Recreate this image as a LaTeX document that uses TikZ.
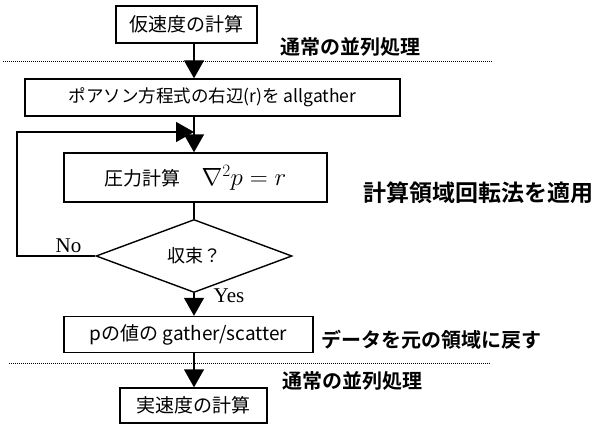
\documentclass[tikz,border=0pt]{standalone}
\usepackage{fontspec}
\setmainfont{Liberation Serif}
\newfontfamily\jp{Noto Sans CJK JP}
\newfontfamily\jpb{Noto Sans CJK JP Bold}
\usetikzlibrary{arrows.meta,shapes.geometric}
\tikzset{
  box/.style={draw, line width=1.4pt, inner sep=0pt, font=\jp\fontsize{19}{22}\selectfont},
  dia/.style={draw, diamond, line width=1.4pt, inner sep=0pt, font=\jp\fontsize{18}{22}\selectfont},
  arr/.style={line width=1.4pt, -{Triangle[width=20pt,length=18pt]}},
  plain/.style={line width=1.4pt},
  sep/.style={line width=1pt, dash pattern=on 1pt off 1pt},
  lab/.style={font=\jpb\fontsize{20}{24}\selectfont, inner sep=0pt},
  yn/.style={font=\rmfamily\fontsize{21}{24}\selectfont, inner sep=0pt},
}
\begin{document}
\begin{tikzpicture}[x=1pt,y=-1pt]
\useasboundingbox (0,0) rectangle (601,425);
\coordinate (ax) at (194,0);
\coordinate (lp) at (17,132);
% separators
\draw[sep] (3,61.5) -- (493,61.5);
\draw[sep] (9,363) -- (490,363);
% boxes
\node[box, minimum width=141pt, minimum height=37pt] (b1) at (186.5,24.5) {仮速度の計算};
\node[box, minimum width=375pt, minimum height=37pt, font=\jp\fontsize{17.5}{22}\selectfont] (b2) at (212.5,97.5) {ポアソン方程式の右辺(r)を allgather};
\node[box, minimum width=263pt, minimum height=49pt] (b3) at (195.5,177.5) {圧力計算\hspace{1.1em}{\fontsize{25}{28}\selectfont$\nabla^2 p = r$}};
\node[dia, minimum width=196pt, minimum height=73pt] (d) at (194,256) {\raisebox{3pt}{収束？}};
\node[box, minimum width=249pt, minimum height=36pt] (b4) at (188.5,334.5) {pの値の gather/scatter};
\node[box, minimum width=147pt, minimum height=35pt] (b5) at (193.5,405.5) {実速度の計算};
% labels
\node[lab] (n1) at (350,47) {通常の並列処理};
\node[lab] (n2) at (352,381) {通常の並列処理};
\node[lab, font=\jpb\fontsize{23}{26}\selectfont] (rot) at (478,193) {計算領域回転法を適用};
\node[lab, anchor=west, font=\jpb\fontsize{20}{22}\selectfont] (ret) at (321,340) {データを元の領域に戻す};
\node[yn] (no) at (68.5,246) {No};
\node[yn] (yes) at (229,296) {Yes};
% connectors
\draw[arr] (b1.south -| ax) -- (b2.north -| ax);
\draw[arr] (b2.south -| ax) -- (b3.north -| ax);
\draw[plain] (b3.south -| ax) -- (d.north);
\draw[arr] (d.west) -| (lp) -- (lp -| ax);
\draw[arr] (d.south) -- (b4.north -| ax);
\draw[arr] (b4.south -| ax) -- (b5.north -| ax);
\end{tikzpicture}
\end{document}
